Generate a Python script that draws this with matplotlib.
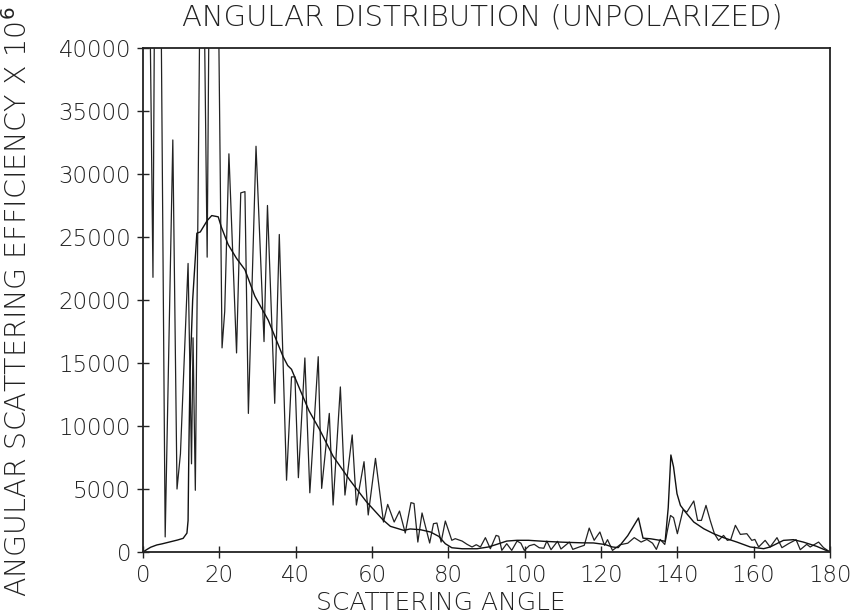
import matplotlib
matplotlib.use("Agg")
import matplotlib.pyplot as plt

# oscillating (single-size) curve, angle in degrees vs efficiency x 1e6
jag_x = [0, 1.2, 2.6, 3.3, 4.3, 5.8, 7.8, 8.9, 9.8, 11.8, 12.7, 13.1, 13.7,
         15.4, 16.8, 17.7, 19.2, 20.7, 21.4, 22.5, 24.5, 25.6, 26.7, 27.6,
         29.6, 31.7, 32.6, 34.5, 35.7, 37.6, 38.9, 39.8, 40.7, 42.4, 43.7,
         45.9, 46.8, 48.8, 49.8, 51.7, 52.9, 54.8, 55.9, 57.9, 59.0, 60.9,
         63.0, 64.1, 65.8, 67.2, 68.7, 70.2, 71.0, 72.0, 73.1, 75.1, 76.1,
         77.0, 78.1, 79.2, 80.9, 81.8, 83.6, 84.9, 86.2, 87.3, 88.4, 89.7,
         91.0, 92.5, 93.2, 94.0, 95.3, 96.6, 98.0, 99.0, 99.9, 101.2, 102.5,
         103.8, 105.0, 105.8, 106.9, 108.6, 109.5, 111.7, 112.6, 114.3,
         115.6, 116.9, 118.2, 119.7, 120.9, 121.7, 123.0, 125.0, 127.0,
         128.7, 130.5, 132.0, 133.5, 134.5, 135.5, 136.7, 137.4, 138.2,
         139.0, 140.0, 141.5, 142.5, 144.3, 145.3, 146.3, 147.5, 148.6,
         149.7, 150.8, 152.1, 153.1, 154.0, 155.2, 156.5, 158.2, 159.5,
         160.3, 161.3, 163.0, 164.3, 166.1, 167.4, 169.1, 171.1, 172.2,
         173.9, 174.8, 177.0, 178.3, 180.0]
jag_y = [60000, 60000, 21800, 60000, 60000, 1200, 32700, 5000, 7800, 22900,
         7000, 17000, 4900, 60000, 23400, 60000, 60000, 16200, 19100, 31600,
         15800, 28500, 28600, 11000, 32200, 16700, 27500, 11800, 25200, 5700,
         13900, 13900, 5900, 15400, 4700, 15500, 5050, 11000, 3730, 13100,
         4520, 9290, 3730, 7170, 2940, 7430, 2380, 3780, 2380, 3250, 1510,
         3920, 3850, 790, 3100, 715, 2250, 2300, 790, 2460, 930, 1060, 870,
         610, 400, 580, 400, 1140, 260, 1320, 1250, 130, 660, 130, 870, 700,
         130, 500, 610, 340, 300, 870, 185, 850, 240, 790, 210, 400, 530,
         1900, 930, 1590, 530, 980, 130, 580, 700, 1140, 790, 1000, 700, 210,
         1000, 600, 1720, 2900, 2725, 1455, 3360, 3175, 4050, 2510, 2510,
         3700, 2510, 1455, 925, 1320, 925, 1000, 2120, 1400, 1455, 925, 1000,
         400, 925, 400, 1140, 345, 660, 980, 185, 610, 400, 790, 345, 0]

# smooth (size-averaged) curve
sm_x = [0, 1, 2, 3.6, 5, 7, 9, 10.5, 11.5, 11.8, 12.0, 12.3, 13.0, 14.1,
        15.0, 16.8, 18.0, 19.7, 20.5, 22.3, 24.5, 26.7, 29.3,
        32.8, 36.7, 37.9, 38.9, 41.1, 43.5, 46.3, 49.8, 54.2, 58.5, 62.9,
        64.8, 68.3, 70, 72.7, 75.3, 77.5, 79.2, 80.9, 83.6, 87.5, 90.5, 92.7,
        95.3, 98, 101, 105, 110, 115, 118, 121, 123, 124.5, 127, 129.8, 131,
        133, 135, 136.8, 137.6, 138.3, 139, 139.9, 140.8, 142.1, 144.3, 146.9,
        149.5, 152.1, 155.6, 159.1, 162.6, 164.3, 167.8, 170.4, 173, 176.5,
        180]
sm_y = [0, 200, 380, 560, 650, 800, 950, 1085, 1500, 2500, 8000, 14000,
        20000, 25300, 25400, 26300, 26700, 26600, 25800, 24400,
        23300, 22400, 20300, 18400, 15500, 14800, 14500, 12900, 11200, 9700,
        7600, 5700, 4000, 2540, 2040, 1720, 1830, 1770, 1590, 1240, 660, 340,
        260, 260, 400, 610, 870, 930, 930, 850, 780, 730, 720, 600, 400, 350,
        1300, 2700, 1100, 1050, 950, 850, 3500, 7700, 6750, 4630, 3700, 3175,
        2380, 1850, 1455, 1140, 790, 400, 265, 400, 925, 980, 790, 450, 0]

x_ticks = list(range(0, 181, 20))
y_ticks = list(range(0, 40001, 5000))

plt.rcParams['font.family'] = ['DejaVu Sans']
plt.rcParams['mathtext.fontset'] = 'dejavusans'

fig = plt.figure(figsize=(8.55, 6.15), dpi=100)
ax = fig.add_axes([0.1673, 0.1024, 0.8035, 0.8196])

ax.plot(jag_x, jag_y, color='#222222', lw=0.9)
ax.plot(sm_x, sm_y, color='#111111', lw=1.0)

ax.set_xlim(0, 180)
ax.set_ylim(0, 40000)
ax.set_xticks(x_ticks)
ax.set_yticks(y_ticks)
ax.set_xticklabels([str(t) for t in x_ticks], fontweight='light')
ax.set_yticklabels([str(t) for t in y_ticks], fontweight='light')
ax.tick_params(direction='inout', length=9, width=1.0, labelsize=16.5,
               colors='#222222')
ax.tick_params(axis='x', pad=4)
ax.tick_params(axis='y', pad=4)
for s in ax.spines.values():
    s.set_linewidth(1.3)
    s.set_color('#222222')

fig.text(0.564, 0.971, 'ANGULAR DISTRIBUTION (UNPOLARIZED)', ha='center',
         va='center', fontsize=21, color='#222222', fontweight='light')
fig.text(0.516, 0.020, 'SCATTERING ANGLE', ha='center', va='center',
         fontsize=18, color='#222222', fontweight='light')
fig.text(0.021, 0.509, 'ANGULAR SCATTERING EFFICIENCY X 10$^6$', rotation=90,
         ha='center', va='center', fontsize=20.5, color='#222222',
         fontweight='light')

fig.savefig('out.png', dpi=100)
